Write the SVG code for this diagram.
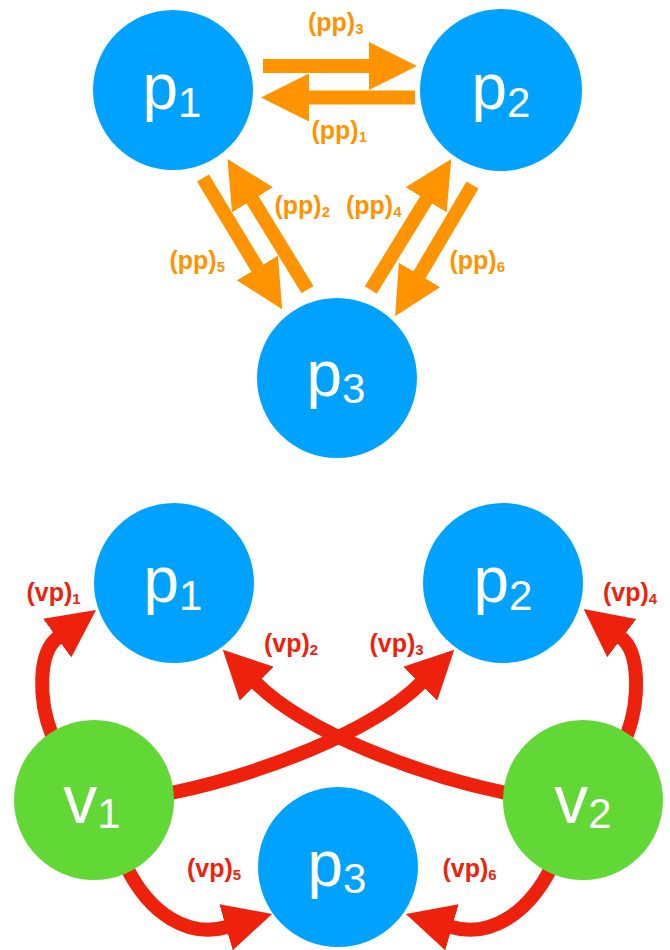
<svg xmlns="http://www.w3.org/2000/svg" width="670" height="950" viewBox="0 0 670 950">
<style>
.pnode{fill:#00A2FF}
.vnode{fill:#61D836}
.nl{fill:#fff;font-family:"Liberation Sans",Arial,sans-serif;text-anchor:middle}
.big{font-size:64px}
.bigv{font-size:68px}
.sm{font-size:42px}
.lbl{font-family:"Liberation Sans",Arial,sans-serif;font-weight:bold;font-size:25px}
.lo{fill:#FF9300}
.lr{fill:#EE220C}
.sub{font-size:15px}
.ao{stroke:#FF9300;stroke-width:14;fill:none;marker-end:url(#ho)}
.ar{stroke:#EE220C;stroke-width:14;fill:none;marker-end:url(#hr)}
</style>
<defs>
<marker id="ho" markerWidth="48" markerHeight="48" refX="1" refY="24" orient="auto" markerUnits="userSpaceOnUse" viewBox="0 0 48 48"><path d="M0,0 L48,24 L0,48 z" fill="#FF9300"/></marker>
<marker id="hr" markerWidth="48" markerHeight="48" refX="1" refY="24" orient="auto" markerUnits="userSpaceOnUse" viewBox="0 0 48 48"><path d="M0,0 L48,24 L0,48 z" fill="#EE220C"/></marker>
</defs>
<rect width="670" height="950" fill="#fff"/>
<g id="connectors">
<line class="ao" x1="263" y1="66" x2="370" y2="66"/>
<line class="ao" x1="415" y1="97.5" x2="308" y2="97.5"/>
<line class="ao" x1="203" y1="178" x2="257.9" y2="268.9"/>
<line class="ao" x1="307.5" y1="289.7" x2="252" y2="199"/>
<line class="ao" x1="370.8" y1="290" x2="426.7" y2="199"/>
<line class="ao" x1="472.5" y1="185" x2="419" y2="275.8"/>
<path class="ar" d="M52,735 C38,700 38,652 58,637.5"/>
<path class="ar" d="M627,735 C640,700 640,652 621,637.5"/>
<path class="ar" d="M506,793 C420,775 306,733 256,683"/>
<path class="ar" d="M171,793 C257,775 371,733 421,683"/>
<path class="ar" d="M126,866 C150,915 189,938 227,927"/>
<path class="ar" d="M552,866 C528,915 489,938 451,927"/>
<text class="lbl lo" x="308" y="31">(pp)<tspan class="sub" dy="3">3</tspan></text>
<text class="lbl lo" x="311.5" y="139">(pp)<tspan class="sub" dy="3">1</tspan></text>
<text class="lbl lo" x="274.5" y="213.5">(pp)<tspan class="sub" dy="3">2</tspan></text>
<text class="lbl lo" x="346" y="213.5">(pp)<tspan class="sub" dy="3">4</tspan></text>
<text class="lbl lo" x="169.5" y="268.5">(pp)<tspan class="sub" dy="3">5</tspan></text>
<text class="lbl lo" x="449.5" y="268.5">(pp)<tspan class="sub" dy="3">6</tspan></text>
<text class="lbl lr" x="26.5" y="600.5">(vp)<tspan class="sub" dy="3">1</tspan></text>
<text class="lbl lr" x="264" y="652">(vp)<tspan class="sub" dy="3">2</tspan></text>
<text class="lbl lr" x="369.5" y="652">(vp)<tspan class="sub" dy="3">3</tspan></text>
<text class="lbl lr" x="603" y="600.5">(vp)<tspan class="sub" dy="3">4</tspan></text>
<text class="lbl lr" x="187" y="877">(vp)<tspan class="sub" dy="3">5</tspan></text>
<text class="lbl lr" x="442.5" y="877">(vp)<tspan class="sub" dy="3">6</tspan></text>
</g>
<g id="top-p1"><circle class="pnode" cx="173" cy="90" r="80"/><text class="nl" x="172" y="109"><tspan class="big">p</tspan><tspan class="sm" dy="8">1</tspan></text></g>
<g id="top-p2"><circle class="pnode" cx="501" cy="90" r="81"/><text class="nl" x="501" y="109"><tspan class="big">p</tspan><tspan class="sm" dy="8">2</tspan></text></g>
<g id="top-p3"><circle class="pnode" cx="337" cy="378" r="80"/><text class="nl" x="336" y="396"><tspan class="big">p</tspan><tspan class="sm" dy="7">3</tspan></text></g>
<g id="bot-p1"><circle class="pnode" cx="174" cy="583" r="80"/><text class="nl" x="173" y="602"><tspan class="big">p</tspan><tspan class="sm" dy="8">1</tspan></text></g>
<g id="bot-p2"><circle class="pnode" cx="503" cy="583" r="80"/><text class="nl" x="503" y="602"><tspan class="big">p</tspan><tspan class="sm" dy="8">2</tspan></text></g>
<g id="bot-p3"><circle class="pnode" cx="338" cy="867" r="80"/><text class="nl" x="337" y="886"><tspan class="big">p</tspan><tspan class="sm" dy="7">3</tspan></text></g>
<g id="v1"><circle class="vnode" cx="94" cy="800" r="80"/><text class="nl" x="92" y="823"><tspan class="bigv">v</tspan><tspan class="sm" dy="5">1</tspan></text></g>
<g id="v2"><circle class="vnode" cx="583" cy="800" r="80"/><text class="nl" x="583" y="823"><tspan class="bigv">v</tspan><tspan class="sm" dy="5">2</tspan></text></g>
</svg>
